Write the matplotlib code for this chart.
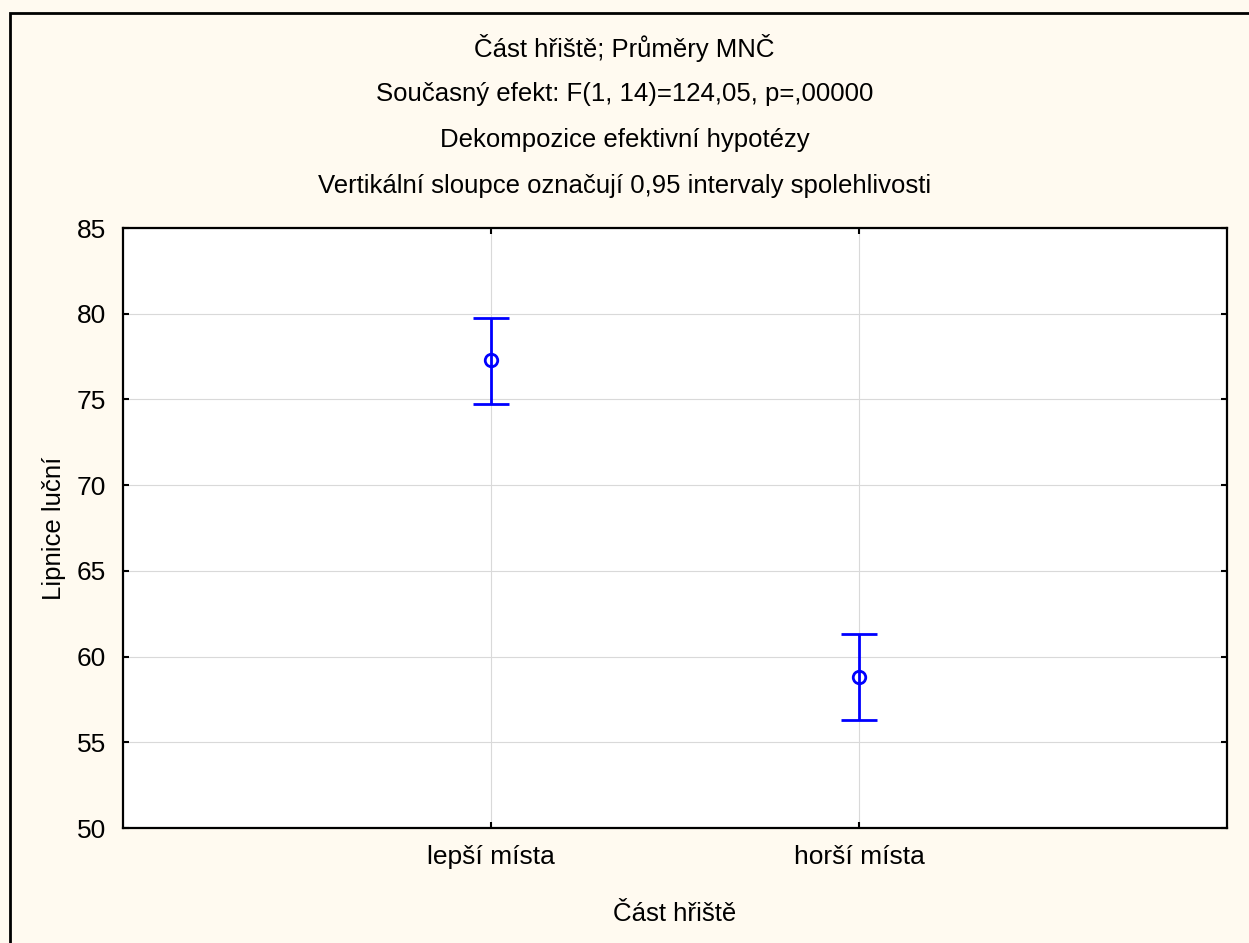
"""Část hřiště - průměry MNČ s 0,95 intervaly spolehlivosti"""
import matplotlib
matplotlib.use('Agg')
import matplotlib.pyplot as plt
from matplotlib.patches import Rectangle

plt.rcParams['font.family'] = ['Liberation Sans', 'DejaVu Sans']

# Data
categories = ['lepší místa', 'horší místa']
means = [77.32, 58.81]
ci_low = [74.74, 56.32]
ci_high = [79.77, 61.30]

titles = ['Část hřiště; Průměry MNČ',
          'Současný efekt: F(1, 14)=124,05, p=,00000',
          'Dekompozice efektivní hypotézy',
          'Vertikální sloupce označují 0,95 intervaly spolehlivosti']

bg = '#FFFAF0'
W, H = 1249, 943
fig = plt.figure(figsize=(W / 100, H / 100), dpi=100, facecolor=bg)

# outer frame (only left/top visible in the original crop)
fig.patches.append(Rectangle((10 / W, -0.1), 1.2, 1 - 13 / H + 0.1,
                             transform=fig.transFigure, fill=False,
                             edgecolor='black', linewidth=2, zorder=0))

ax = fig.add_axes([123 / W, 1 - 828 / H, (1227 - 123) / W, (828 - 228) / H])
ax.set_facecolor('white')

x = [1, 2]
yerr = [[m - lo for m, lo in zip(means, ci_low)],
        [hi - m for m, hi in zip(means, ci_high)]]
ax.errorbar(x, means, yerr=yerr, fmt='o', color='#0000FF', mfc='none',
            mec='#0000FF', mew=2, ms=9, elinewidth=2, capsize=13,
            capthick=2, zorder=3)

ax.set_xlim(0, 3)
ax.set_ylim(50, 85)
ax.set_xticks(x)
ax.set_xticklabels(categories)
ax.set_yticks(range(50, 86, 5))
ax.grid(True, color='#D9D9D9', linewidth=0.8)
ax.set_axisbelow(True)
ax.tick_params(direction='in', length=4, width=1.5, top=True, right=True,
               labelsize=19, pad=12)
for s in ax.spines.values():
    s.set_linewidth(1.6)

ax.set_xlabel('Část hřiště', fontsize=18.5, labelpad=24)
ax.set_ylabel('Lipnice luční', fontsize=18.5, labelpad=8)

for i, t in enumerate(titles):
    fig.text(0.5, 1 - (48 + i * 46) / H, t, ha='center', va='center', fontsize=18.5)

fig.savefig('out.png', dpi=100, facecolor=bg)
